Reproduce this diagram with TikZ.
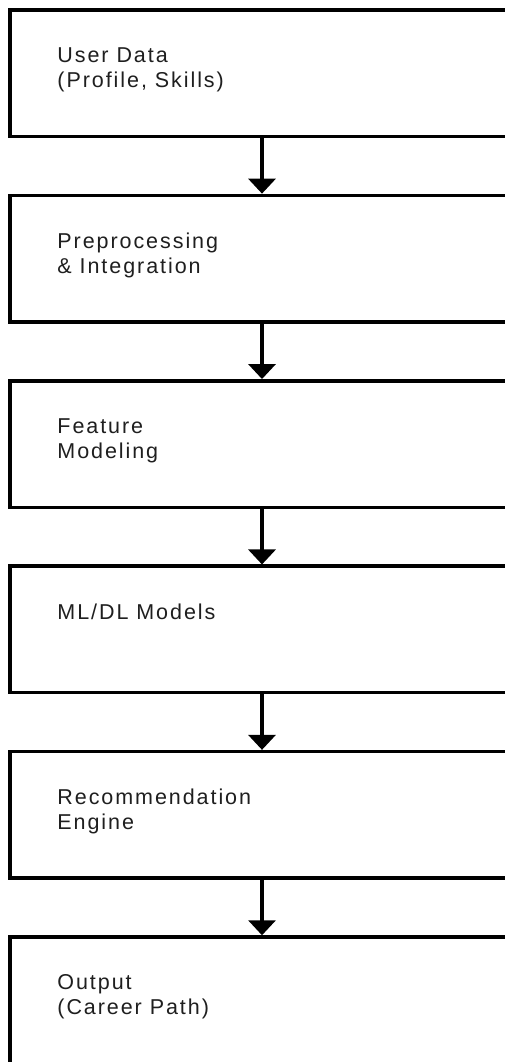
\documentclass[tikz,border=0pt]{standalone}
\usepackage{fontspec}
\setmainfont{Liberation Sans}[LetterSpace=9]
\usepackage{tikz}
\usetikzlibrary{positioning,arrows.meta}

\tikzset{
  stage/.style={rectangle, draw=black, line width=3.5pt, minimum width=504pt, minimum height=126.5pt, inner sep=0pt},
  stagetext/.style={anchor=north west, align=left, inner sep=0pt, text=black!88,
    font=\fontsize{21.5pt}{25pt}\selectfont},
  flow/.style={-{Triangle[length=15pt,width=27pt]}, line width=3.5pt}
}

\begin{document}
\begin{tikzpicture}[x=1pt,y=-1pt]
\clip (0,0) rectangle (505,1062);
\fill[white] (0,0) rectangle (505,1062);

\node[stage] (UD) at (262,73.25) {};
\node[stage, below=55.4pt of UD] (PI) {};
\node[stage, below=55.4pt of PI] (FM) {};
\node[stage, below=55.4pt of FM] (ML) {};
\node[stage, below=55.4pt of ML] (RE) {};
\node[stage, below=55.4pt of RE] (OUT) {};

\node[stagetext] (UDtext) at ([xshift=49pt,yshift=-39pt]UD.north west) {User Data\\(Profile, Skills)};
\node[stagetext] (PItext) at ([xshift=49pt,yshift=-39pt]PI.north west) {Preprocessing\\\& Integration};
\node[stagetext] (FMtext) at ([xshift=49pt,yshift=-39pt]FM.north west) {Feature\\Modeling};
\node[stagetext] (MLtext) at ([xshift=49pt,yshift=-39pt]ML.north west) {ML/DL Models};
\node[stagetext] (REtext) at ([xshift=49pt,yshift=-39pt]RE.north west) {Recommendation\\Engine};
\node[stagetext] (OUTtext) at ([xshift=49pt,yshift=-39pt]OUT.north west) {Output\\(Career Path)};

\draw[flow] (UD) -- (PI);
\draw[flow] (PI) -- (FM);
\draw[flow] (FM) -- (ML);
\draw[flow] (ML) -- (RE);
\draw[flow] (RE) -- (OUT);
\end{tikzpicture}
\end{document}
